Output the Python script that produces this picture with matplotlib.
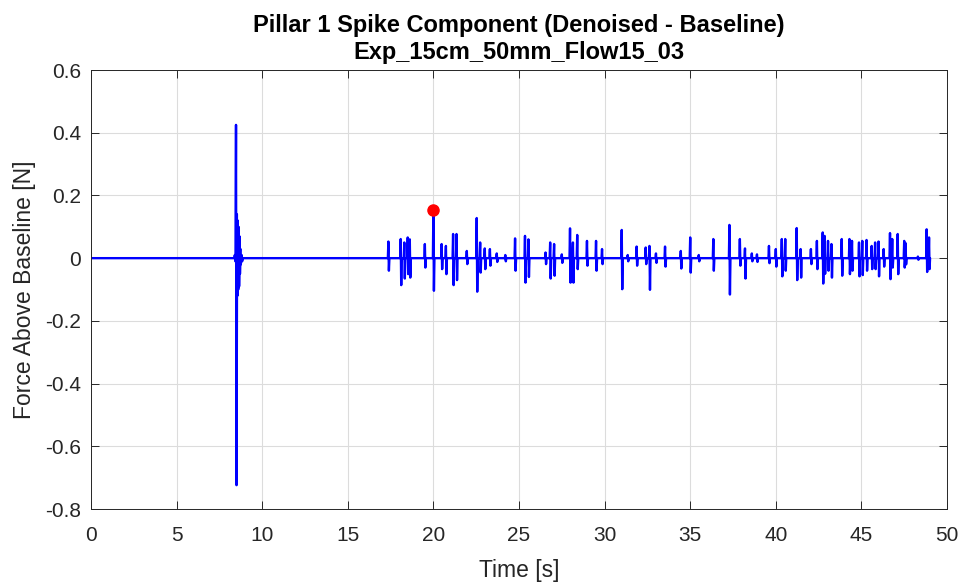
import numpy as np
import matplotlib
matplotlib.use("Agg")
import matplotlib.pyplot as plt

# spike events: time [s], peak [N], trough [N]
spike_t = [8.40, 8.47, 8.52, 8.57, 8.62, 8.67, 8.72, 8.80,
           17.37, 18.09, 18.30, 18.50, 18.62, 19.50, 20.00, 20.48, 20.73,
           21.15, 21.35, 21.95, 22.53, 22.73, 23.00, 23.30, 23.70, 24.20,
           24.77, 25.35, 25.55, 26.55, 26.82, 27.05, 27.50, 27.98, 28.15,
           28.40, 28.97, 29.50, 29.85, 31.00, 31.35, 31.87, 32.40, 32.62,
           33.00, 33.53, 34.45, 35.00, 35.50, 36.35, 37.29, 37.90, 38.20,
           38.60, 38.90, 39.60, 40.00, 40.35, 40.55, 41.22, 41.45, 42.05,
           42.40, 42.74, 42.85, 43.05, 43.25, 43.85, 44.30, 44.45, 44.86,
           45.05, 45.30, 45.60, 45.80, 46.00, 46.30, 46.67, 46.80, 47.12,
           47.50, 47.58, 48.30, 48.81, 48.95]
spike_hi = [0.010, 0.425, 0.140, 0.120, 0.100, 0.070, 0.030, 0.010,
            0.053, 0.061, 0.050, 0.066, 0.060, 0.045, 0.155, 0.045, 0.039,
            0.077, 0.077, 0.023, 0.128, 0.050, 0.031, 0.029, 0.015, 0.010,
            0.063, 0.071, 0.060, 0.018, 0.050, 0.045, 0.012, 0.095, 0.050,
            0.074, 0.055, 0.055, 0.029, 0.090, 0.010, 0.037, 0.034, 0.039,
            0.015, 0.037, 0.023, 0.066, 0.010, 0.061, 0.106, 0.061, 0.031,
            0.015, 0.012, 0.039, 0.029, 0.061, 0.061, 0.096, 0.029, 0.029,
            0.055, 0.082, 0.071, 0.055, 0.045, 0.061, 0.061, 0.055, 0.050,
            0.055, 0.058, 0.039, 0.050, 0.053, 0.029, 0.080, 0.061, 0.077,
            0.055, 0.048, 0.005, 0.092, 0.066]
spike_lo = [-0.010, -0.724, -0.120, -0.100, -0.090, -0.050, -0.020, -0.010,
            -0.040, -0.086, -0.065, -0.051, -0.062, -0.030, -0.104, -0.035, -0.051,
            -0.086, -0.070, -0.019, -0.107, -0.046, -0.035, -0.024, -0.012, -0.010,
            -0.040, -0.078, -0.060, -0.019, -0.065, -0.056, -0.015, -0.078, -0.078,
            -0.035, -0.024, -0.040, -0.019, -0.099, -0.010, -0.024, -0.019, -0.101,
            -0.015, -0.027, -0.033, -0.046, -0.010, -0.040, -0.116, -0.024, -0.065,
            -0.010, -0.012, -0.016, -0.027, -0.058, -0.040, -0.070, -0.062, -0.019,
            -0.035, -0.081, -0.050, -0.040, -0.062, -0.056, -0.051, -0.040, -0.058,
            -0.054, -0.040, -0.035, -0.035, -0.058, -0.027, -0.067, -0.030, -0.051,
            -0.030, -0.020, -0.005, -0.044, -0.035]
t_start, t_end = 0.0, 49.0
max_t, max_f = 20.00, 0.155

# build the trace: each spike goes 0 -> peak -> trough -> 0
t = [t_start]
f = [0.0]
for ts, hi, lo in zip(spike_t, spike_hi, spike_lo):
    t += [ts - 0.03, ts, ts + 0.03, ts + 0.06]
    f += [0.0, hi, lo, 0.0]
t.append(t_end)
f.append(0.0)

plt.rcParams['font.family'] = ['Liberation Sans', 'DejaVu Sans']
plt.rcParams['axes.unicode_minus'] = False

fig = plt.figure(figsize=(9.63, 5.84), dpi=100)
ax = fig.add_axes([0.0945, 0.1284, 0.8889, 0.7517])

ax.plot(t, f, color='#0000ff', lw=1.7)
ax.plot(max_t, max_f, 'o', color='#ff0000', ms=8)

ax.set_xlim(0, 50)
ax.set_ylim(-0.8, 0.6)
ax.set_xticks(np.arange(0, 51, 5))
ax.set_yticks(np.arange(-0.8, 0.61, 0.2))
ax.set_yticklabels(['-0.8', '-0.6', '-0.4', '-0.2', '0', '0.2', '0.4', '0.6'])

ax.grid(True, color='#dcdcdc', lw=0.8)
ax.set_axisbelow(True)
ax.tick_params(direction='in', top=True, right=True, length=6,
               labelsize=15, colors='#262626', width=0.7)
ax.tick_params(axis='x', pad=12)
ax.tick_params(axis='y', pad=7)
for s in ax.spines.values():
    s.set_color('#262626')
    s.set_linewidth(0.7)

ax.set_xlabel('Time [s]', fontsize=16.5, color='#262626', labelpad=10)
ax.set_ylabel('Force Above Baseline [N]', fontsize=16.5, color='#262626', labelpad=7)
ax.set_title('Pillar 1 Spike Component (Denoised - Baseline)\nExp_15cm_50mm_Flow15_03',
             fontsize=17, fontweight='bold', color='black', pad=8, linespacing=1.2)

fig.savefig('out.png', dpi=100)
